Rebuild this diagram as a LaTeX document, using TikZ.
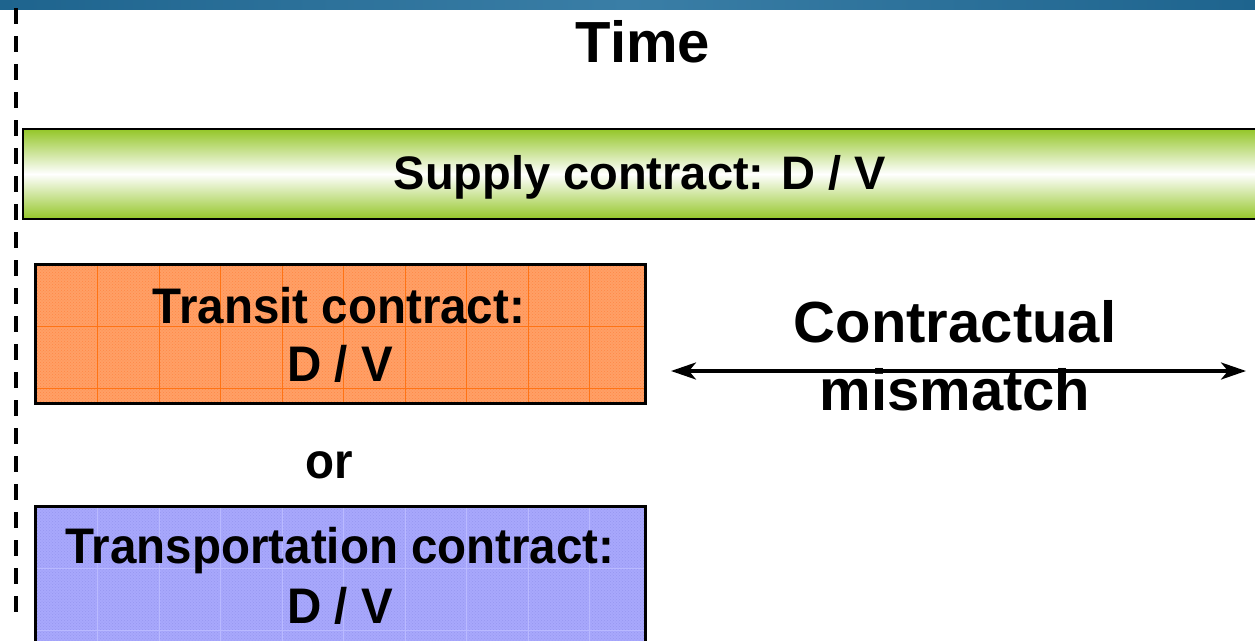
\documentclass[tikz,border=0pt]{standalone}
\usepackage{fontspec}
\setmainfont{Liberation Sans}
\newfontfamily\condfont{Liberation Sans}[FakeStretch=0.95]
\usetikzlibrary{arrows.meta,patterns}
\definecolor{bandA}{RGB}{30,100,142}
\definecolor{bandB}{RGB}{58,126,166}
\definecolor{barGreen}{RGB}{148,198,40}
\definecolor{orFill}{RGB}{255,160,102}
\definecolor{orDot}{RGB}{255,135,70}
\definecolor{orGrid}{RGB}{255,115,20}
\definecolor{blFill}{RGB}{168,168,252}
\definecolor{blDot}{RGB}{150,150,240}
\definecolor{blGrid}{RGB}{185,185,255}
\tikzset{
  txt/.style={inner sep=0pt, anchor=base, font=\bfseries},
  boxframe/.style={draw=black, line width=2.8pt, inner sep=0pt},
  gridline/.style={line width=1pt},
  boxtxt/.style={txt, font=\condfont\bfseries\fontsize{50}{50}\selectfont},
}
\begin{document}
\begin{tikzpicture}[x=1pt,y=-1pt]
\useasboundingbox (0,0) rectangle (1255,640);
% top band
\shade[left color=bandA, right color=bandA, middle color=bandB] (0,0) rectangle (1255,9.5);
% dashed time line
\coordinate (dtop) at (16,8);
\coordinate (dbot) at (16,612);
\draw[line width=4pt, dash pattern=on 16pt off 12pt] (dtop) -- (dbot);
% supply bar
\node[boxframe, minimum width=1242pt, minimum height=90pt, top color=barGreen, bottom color=barGreen, middle color=white] (supply) at (644,174) {};
% transit box
\node[boxframe, draw=none, fill=orFill, minimum width=607pt, minimum height=136pt] (transit) at (340.5,334) {};
\fill[pattern=crosshatch dots, pattern color=orDot] (transit.south west) rectangle (transit.north east);
\begin{scope}
\clip (transit.south west) rectangle (transit.north east);
\foreach \i in {1,...,9} \draw[gridline, orGrid] (36+\i*61.5,265) -- ++(0,140);
\foreach \j in {1,2} \draw[gridline, orGrid] (36,265+\j*61.5) -- ++(610,0);
\end{scope}
\draw[line width=2.8pt] (transit.south west) rectangle (transit.north east);
% transportation box
\node[boxframe, draw=none, fill=blFill, minimum width=607pt, minimum height=142pt] (transp) at (340.5,578.5) {};
\fill[pattern=crosshatch dots, pattern color=blDot] (transp.south west) rectangle (transp.north east);
\begin{scope}
\clip (transp.south west) rectangle (transp.north east);
\foreach \i in {1,...,9} \draw[gridline, blGrid] (36+\i*61.5,505) -- ++(0,150);
\foreach \j in {1,2} \draw[gridline, blGrid] (36,507+\j*61.5) -- ++(610,0);
\end{scope}
\draw[line width=2.8pt] (transp.south west) rectangle (transp.north east);
% arrow
\coordinate (aL) at (671,371);
\coordinate (aR) at (1246,371);
\draw[line width=3.5pt, {Stealth[length=25pt,width=17pt,inset=7pt]}-{Stealth[length=25pt,width=17pt,inset=7pt]}] (aL) -- (aR);
% texts
\node[txt, font=\bfseries\fontsize{58}{58}\selectfont] (time) at (643,62) {Time};
\node[txt, font=\bfseries\fontsize{47}{47}\selectfont] (supplyt) at (640,189) {Supply contract: D / V};
\node[boxtxt] (tr1) at (339,323) {Transit contract:};
\node[boxtxt] (tr2) at (340,381) {D / V};
\node[boxtxt] (or) at (329,478) {or};
\node[boxtxt] (tp1) at (340,563) {Transportation contract:};
\node[boxtxt] (tp2) at (340,623) {D / V};
\node[txt, font=\bfseries\fontsize{58}{58}\selectfont] (cm1) at (955,342) {Contractual};
\node[txt, font=\bfseries\fontsize{58}{58}\selectfont] (cm2) at (955,410) {mismatch};
\end{tikzpicture}
\end{document}
